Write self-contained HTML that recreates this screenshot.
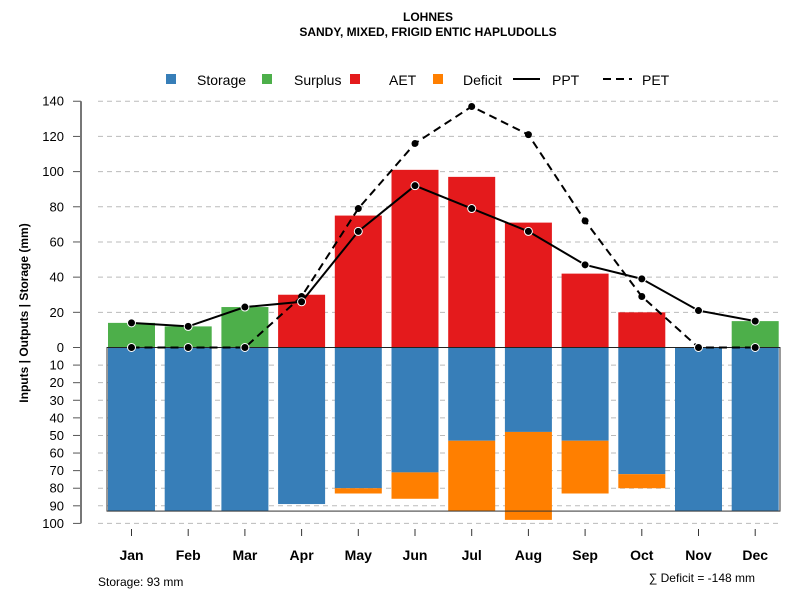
<!DOCTYPE html>
<html><head><meta charset="utf-8"><style>
body{margin:0;background:#fff}
svg{display:block;font-family:"Liberation Sans",sans-serif}
</style></head><body>
<svg id="chart" width="800" height="600" viewBox="0 0 800 600">
<text x="428" y="21" text-anchor="middle" font-size="12" font-weight="bold">LOHNES</text>
<text x="428" y="36" text-anchor="middle" font-size="12" font-weight="bold">SANDY, MIXED, FRIGID ENTIC HAPLUDOLLS</text>
<g font-size="14">
<rect x="166" y="74" width="10" height="10" fill="#377eb8"/>
<text x="197" y="85">Storage</text>
<rect x="262" y="74" width="10" height="10" fill="#4daf4a"/>
<text x="294" y="85">Surplus</text>
<rect x="350" y="74" width="10" height="10" fill="#e41a1c"/>
<text x="389" y="85">AET</text>
<rect x="433" y="74" width="10" height="10" fill="#ff7f00"/>
<text x="463" y="85">Deficit</text>
<line x1="513" y1="79" x2="540" y2="79" stroke="#000" stroke-width="2"/>
<text x="552" y="85">PPT</text>
<line x1="603" y1="79" x2="632" y2="79" stroke="#000" stroke-width="2" stroke-dasharray="8,5"/>
<text x="642" y="85">PET</text>
</g>
<text transform="translate(28,313) rotate(-90)" text-anchor="middle" font-size="12" font-weight="bold">Inputs | Outputs | Storage    (mm)</text>
<text x="98" y="586" font-size="12">Storage: 93 mm</text>
<text x="755" y="582" text-anchor="end" font-size="12">∑ Deficit = -148 mm</text>
<g id="plot"></g>
</svg>
<script>
const months=["Jan","Feb","Mar","Apr","May","Jun","Jul","Aug","Sep","Oct","Nov","Dec"];
const storage=[93,93,93,89,80,71,53,48,53,72,93,93];
const deficit=[0,0,0,0,3,15,40,50,30,8,0,0];
const surplus=[14,12,23,0,0,0,0,0,0,0,0,15];
const aet=[0,0,0,30,75,101,97,71,42,20,0,0];
const ppt=[14,12,23,26,66,92,79,66,47,39,21,15];
const pet=[0,0,0,29,79,116,137,121,72,29,0,0];
const upperTicks=[0,20,40,60,80,100,120,140];
const lowerTicks=[10,20,30,40,50,60,70,80,90,100];
const capacity=93;

const NS="http://www.w3.org/2000/svg";
const g=document.getElementById('plot');
const y0=347.5, k=1.759;
const yU=v=>y0-v*k, yL=v=>y0+v*k;
const xC=i=>131.5+i*56.7, bw=47;
function mk(t,a){const e=document.createElementNS(NS,t);for(const n in a)e.setAttribute(n,a[n]);g.appendChild(e);return e;}
upperTicks.forEach(v=>{
 if(v>0){const l=mk('line',{x1:98,x2:782,y1:yU(v),y2:yU(v),stroke:'#bbb','stroke-dasharray':'5,4'});
 }
 const t=mk('line',{x1:73,x2:81,y1:yU(v),y2:yU(v),stroke:'#555'});
 
 const tx=mk('text',{x:64,y:yU(v)+4.5,'text-anchor':'end','font-size':13});tx.textContent=v;
 
});
lowerTicks.forEach(v=>{
 const l=mk('line',{x1:98,x2:782,y1:yL(v),y2:yL(v),stroke:'#bbb','stroke-dasharray':'5,4'});
 
 const t=mk('line',{x1:73,x2:81,y1:yL(v),y2:yL(v),stroke:'#555'});
 
 const tx=mk('text',{x:64,y:yL(v)+4.5,'text-anchor':'end','font-size':13});tx.textContent=v;
 
});
const ax=mk('line',{x1:81,x2:81,y1:yU(140),y2:yL(100),stroke:'#777','stroke-width':2});

months.forEach((m,i)=>{
 const x=xC(i)-bw/2;
 const s=mk('rect',{x:x,y:y0,width:bw,height:storage[i]*k,fill:'#377eb8'});
 
 if(deficit[i]>0){const d=mk('rect',{x:x,y:yL(storage[i]),width:bw,height:deficit[i]*k,fill:'#ff7f00'});
  }
 if(surplus[i]>0){const r=mk('rect',{x:x,y:yU(surplus[i]),width:bw,height:surplus[i]*k,fill:'#4daf4a'});
  }
 if(aet[i]>0){const r=mk('rect',{x:x,y:yU(aet[i]),width:bw,height:aet[i]*k,fill:'#e41a1c'});
  }
 const t=mk('line',{x1:xC(i),x2:xC(i),y1:529,y2:536,stroke:'#333'});
 
 const tx=mk('text',{x:xC(i),y:560,'text-anchor':'middle','font-size':14,'font-weight':'bold'});tx.textContent=m;
 
});
const cap=mk('rect',{x:107,y:y0,width:673,height:capacity*k,fill:'none',stroke:'#333','stroke-width':1});

const zl=mk('line',{x1:107,x2:780,y1:y0,y2:y0,stroke:'#222'});

const pp=mk('polyline',{points:pet.map((v,i)=>xC(i)+','+yU(v)).join(' '),fill:'none',stroke:'#000','stroke-width':2,'stroke-dasharray':'8,5'});

const pl=mk('polyline',{points:ppt.map((v,i)=>xC(i)+','+yU(v)).join(' '),fill:'none',stroke:'#000','stroke-width':2});

pet.forEach((v,i)=>{const c=mk('circle',{cx:xC(i),cy:yU(v),r:v===0?4:3.5,fill:'#000',stroke:v===0?'#fff':'none','stroke-width':1});
 });
ppt.forEach((v,i)=>{const c=mk('circle',{cx:xC(i),cy:yU(v),r:4,fill:'#000',stroke:'#fff','stroke-width':1});
 });
</script>
</body></html>
